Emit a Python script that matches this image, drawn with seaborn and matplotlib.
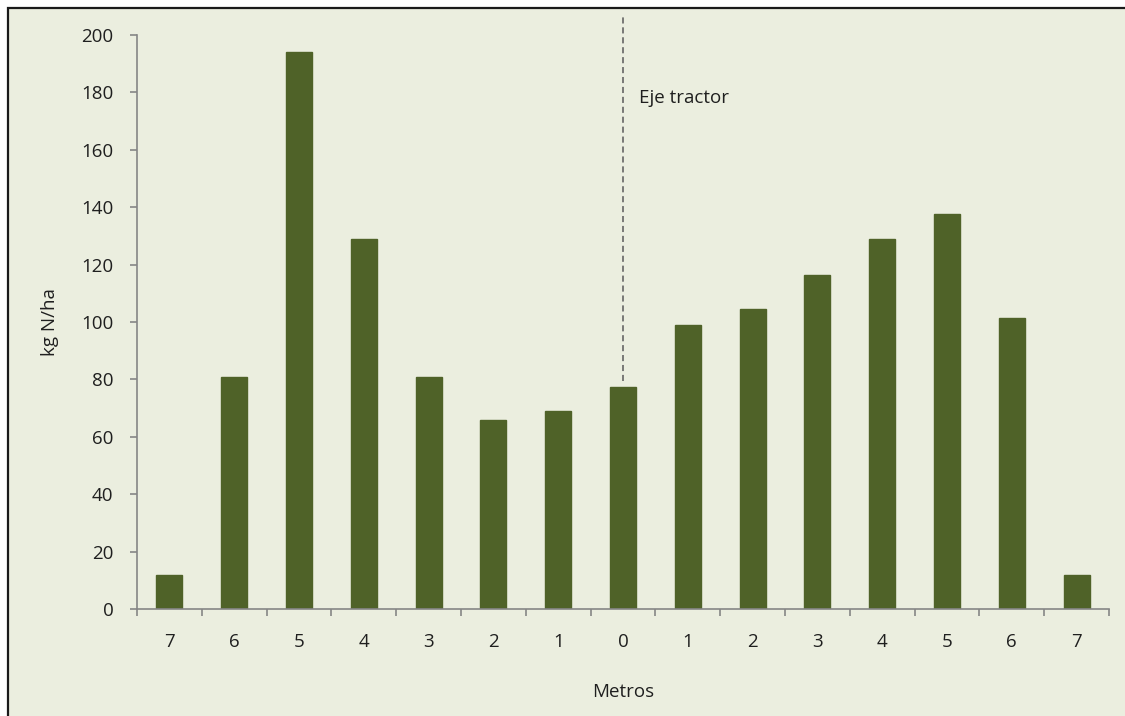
import matplotlib
matplotlib.use("Agg")
import matplotlib.pyplot as plt
import matplotlib.patches as mpatches
import numpy as np
import pandas as pd
import seaborn as sns

# ── Data ──────────────────────────────────────────────────────────────────────
metros = ["7", "6", "5", "4", "3", "2", "1", "0", "1", "2", "3", "4", "5", "6", "7"]
kg_n_ha = [12, 81, 194, 129, 81, 66, 69, 77.5, 99, 104.5, 116.5, 129, 137.5, 101.5, 12]
eje_idx = 7          # position of the tractor axis (metro 0)
eje_label = "Eje tractor"

BG = "#EBEEDF"
BAR = "#4F6228"
TXT = "#1F1F1F"

# ── Style ─────────────────────────────────────────────────────────────────────
sns.set_theme(style="ticks")
plt.rcParams.update({
    "font.family": ["Open Sans", "DejaVu Sans"],
    "axes.edgecolor": "#868686",
    "xtick.color": "#868686",
    "ytick.color": "#868686",
    "xtick.labelcolor": TXT,
    "ytick.labelcolor": TXT,
})
FS = 13.5

df = pd.DataFrame({"pos": np.arange(len(metros)), "kg": kg_n_ha})

fig = plt.figure(figsize=(11.25, 7.16), dpi=100, facecolor="white")
# framed panel (behind the axes)
fig.patches.append(mpatches.Rectangle((8 / 1125, -0.05), 1.2, 1 - 8 / 716 + 0.05,
                                      transform=fig.transFigure, facecolor=BG,
                                      edgecolor="#1a1a1a", linewidth=1.6, zorder=-10))

ax = fig.add_axes([137 / 1125, 1 - 609 / 716, (1109 - 137) / 1125, (609 - 35) / 716])
ax.set_zorder(5)
ax.patch.set_alpha(0)

sns.barplot(data=df, x="pos", y="kg", color=BAR, width=0.4, saturation=1,
            edgecolor=BAR, ax=ax)

ax.set_xlim(-0.5, len(metros) - 0.5)
ax.set_ylim(0, 200)
ax.set_yticks(np.arange(0, 201, 20))
ax.tick_params(axis="y", labelsize=FS, length=5, width=1.2, pad=12)

# category labels at centres, tick marks at the boundaries
ax.set_xticks(np.arange(len(metros)))
ax.set_xticklabels(metros, fontsize=FS)
ax.tick_params(axis="x", which="major", length=0, pad=17)
ax.set_xticks(np.arange(-0.5, len(metros)), minor=True)
ax.tick_params(axis="x", which="minor", length=5, width=1.2)

ax.set_xlabel("Metros", fontsize=FS, color=TXT, labelpad=23)
ax.set_ylabel("kg N/ha", fontsize=FS, color=TXT, labelpad=16)

for side in ["top", "right"]:
    ax.spines[side].set_visible(False)
for side in ["left", "bottom"]:
    ax.spines[side].set_linewidth(1.2)

# tractor axis
ax.plot([eje_idx, eje_idx], [kg_n_ha[eje_idx] + 2, 207], color="#595959",
        linestyle=(0, (4, 2.5)), linewidth=1.1, clip_on=False)
ax.text(eje_idx + 0.24, 178, eje_label, fontsize=FS, color=TXT,
        ha="left", va="center")

fig.savefig("out.png", dpi=100, facecolor=fig.get_facecolor())
